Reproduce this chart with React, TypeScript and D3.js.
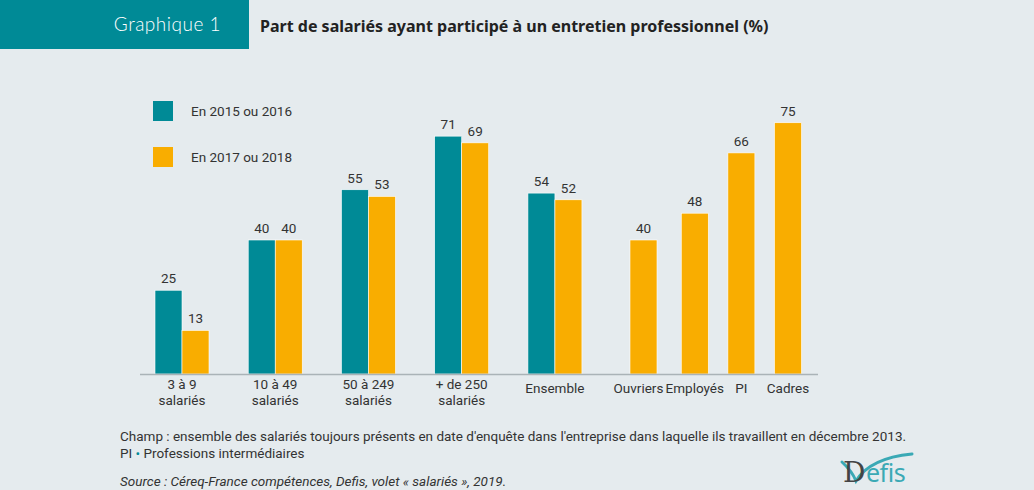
import React from "react";
import * as d3 from "d3";

const groupCats = ["3 à 9|salariés", "10 à 49|salariés", "50 à 249|salariés", "+ de 250|salariés", "Ensemble"];
const val2016 = [25, 40, 55, 71, 54];
const val2018 = [13, 40, 53, 69, 52];
const singleCats = ["Ouvriers", "Employés", "PI", "Cadres"];
const singleVals = [40, 48, 66, 75];
const legendLabels = ["En 2015 ou 2016", "En 2017 ou 2018"];
// slot positions (category index along the axis)
const groupSlots = [0, 2, 4, 6, 8];
const singleSlots = [9.9, 11, 12, 13];

const W = 1034, H = 490;
const TEAL = "#008a96";
const ORANGE = "#f9ad00";
const BG = "#e5ebee";
const TXT = "#333";
const FONT = "Roboto, 'Noto Sans', sans-serif";

export default function App() {
  const baseY = 374;
  const y = d3.scaleLinear().domain([0, 100]).range([baseY, baseY - 335]);
  const x = d3.scaleLinear().domain([0, 13]).range([182, 788]);
  const bw = 27;
  const fs = 13.5;

  return (
    <div style={{ position: "fixed", left: 0, top: 0 }}>
      <svg width={W} height={H} style={{ display: "block", fontFamily: FONT }}>
        <rect x={0} y={0} width={W} height={H} fill={BG} />
        <rect x={0} y={0} width={249} height={49} fill={TEAL} />
        <text x={221} y={31} textAnchor="end" fill="#fff" fontSize={19} fontFamily="Lato, sans-serif" fontWeight={300} letterSpacing={0.5}>
          Graphique 1
        </text>
        <text x={260} y={32} fill="#222" fontSize={16} fontWeight={700} fontFamily="'Noto Sans', sans-serif">
          Part de salariés ayant participé à un entretien professionnel (%)
        </text>

        {/* legend */}
        {legendLabels.map((l, i) => (
          <g key={l}>
            <rect x={153} y={101 + i * 46} width={20} height={20} fill={i === 0 ? TEAL : ORANGE} />
            <text x={191} y={116 + i * 46} fontSize={fs} fill={TXT}>{l}</text>
          </g>
        ))}

        {/* grouped bars */}
        {groupCats.map((c, i) => {
          const cx = x(groupSlots[i]);
          const lines = c.split("|");
          return (
            <g key={c}>
              <rect x={cx - bw} y={y(val2016[i])} width={bw} height={baseY - y(val2016[i])} fill={TEAL} stroke="#fff" strokeWidth={0.6} />
              <rect x={cx} y={y(val2018[i])} width={bw} height={baseY - y(val2018[i])} fill={ORANGE} stroke="#fff" strokeWidth={0.6} />
              <text x={cx - bw / 2} y={y(val2016[i]) - 7} textAnchor="middle" fontSize={fs} fill={TXT}>{val2016[i]}</text>
              <text x={cx + bw / 2} y={y(val2018[i]) - 7} textAnchor="middle" fontSize={fs} fill={TXT}>{val2018[i]}</text>
              {lines.length === 2 ? (
                <>
                  <text x={cx} y={389} textAnchor="middle" fontSize={fs} fill={TXT}>{lines[0]}</text>
                  <text x={cx} y={405} textAnchor="middle" fontSize={fs} fill={TXT}>{lines[1]}</text>
                </>
              ) : (
                <text x={cx} y={393} textAnchor="middle" fontSize={fs} fill={TXT}>{lines[0]}</text>
              )}
            </g>
          );
        })}

        {singleCats.map((c, i) => {
          const cx = x(singleSlots[i]);
          return (
            <g key={c}>
              <rect x={cx - bw / 2} y={y(singleVals[i])} width={bw} height={baseY - y(singleVals[i])} fill={ORANGE} stroke="#fff" strokeWidth={0.6} />
              <text x={cx} y={y(singleVals[i]) - 7} textAnchor="middle" fontSize={fs} fill={TXT}>{singleVals[i]}</text>
              <text x={i === 0 ? cx - 5 : cx} y={393} textAnchor="middle" fontSize={fs} fill={TXT}>{c}</text>
            </g>
          );
        })}

        <line x1={140} x2={818} y1={baseY + 0.5} y2={baseY + 0.5} stroke="#aab3b7" strokeWidth={1.5} />

        {/* notes */}
        <text x={120} y={441} fontSize={13.5} fill={TXT}>
          Champ : ensemble des salariés toujours présents en date d'enquête dans l'entreprise dans laquelle ils travaillent en décembre 2013.
        </text>
        <text x={120} y={458} fontSize={13.5} fill={TXT}>
          PI <tspan fill={TEAL}>•</tspan> Professions intermédiaires
        </text>
        <text x={120} y={486} fontSize={13.5} fill={TXT} fontStyle="italic">
          Source : Céreq-France compétences, Defis, volet « salariés », 2019.
        </text>

        {/* logo */}
        <g>
          <path d="M842,462 Q852,471 856,481 Q870,458 912,454" fill="none" stroke="#3aa9b5" strokeWidth={3} strokeLinecap="round" />
          <text x={843} y={482} fontSize={28} fill="#444" fontFamily="'DejaVu Serif', serif">D</text>
          <text x={866} y={482} fontSize={25} fill="#3aa9b5" fontFamily="'Noto Sans', sans-serif" letterSpacing={-0.5}>efis</text>
        </g>
      </svg>
    </div>
  );
}
